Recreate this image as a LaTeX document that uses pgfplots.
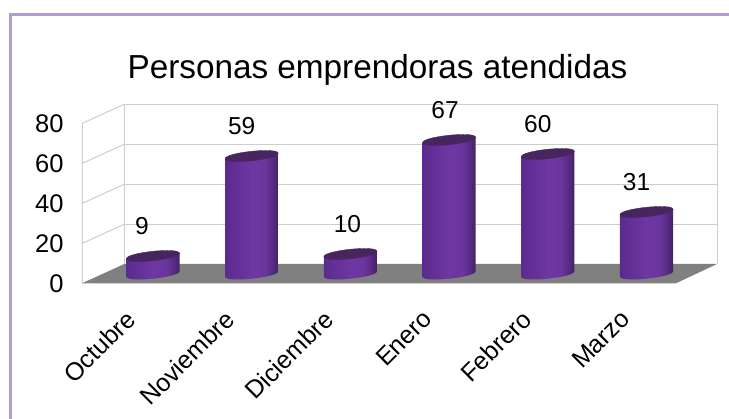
\documentclass[border=0pt]{standalone}
\usepackage{pgfplots}
\pgfplotsset{compat=1.18}
\usepackage{pgfplotstable}
\usepackage{fontspec}
\setmainfont{Liberation Sans}
\definecolor{framec}{HTML}{B09CCE}
\definecolor{gridc}{HTML}{CDCDCD}
\definecolor{floorc}{HTML}{808080}
\definecolor{captop}{HTML}{47255F}
\definecolor{cyla}{HTML}{5A2B8E}
\definecolor{cylb}{HTML}{6E37A2}
\definecolor{cylc}{HTML}{6B359E}
\definecolor{cyld}{HTML}{54297F}
\definecolor{cyle}{HTML}{3E2160}
\pgfdeclarehorizontalshading{cyl}{100bp}{
 color(0bp)=(cyla);
 color(25bp)=(cyla);
 color(50bp)=(cylb);
 color(62bp)=(cylc);
 color(70bp)=(cyld);
 color(75bp)=(cyle);
 color(100bp)=(cyle)}
\pgfdeclareplotmark{cyl}{%
 \pgfmathsetlengthmacro{\h}{2*\v pt}%
 \path[shading=cyl,draw=none] (-26.55pt,-2.79pt) -- (-26.55pt,-2.79pt-\h)
   .. controls (-25.9pt,-9.02pt-\h) and (27.21pt,-3.44pt-\h) .. (26.55pt,2.79pt-\h)
   -- (26.55pt,2.79pt) -- cycle;
 \fill[captop] (-26.55pt,-2.79pt)
   .. controls (-27.2pt,3.44pt) and (25.9pt,9.02pt) .. (26.55pt,2.79pt)
   .. controls (27.21pt,-3.44pt) and (-25.9pt,-9.02pt) .. (-26.55pt,-2.79pt) -- cycle;
}
\pgfplotstableread{
x y dx
0 9 -11
1 59 -10
2 10 -3
3 67 -4
4 60 -10
5 31 -10
}\datatable
\begin{document}
\begin{tikzpicture}
\path[use as bounding box] (0,0) rectangle (729pt,419pt);
% background, in picture pixels
\begin{axis}[at={(0,0)},anchor=south west,scale only axis,width=729pt,height=419pt,
  xmin=0,xmax=729,ymin=0,ymax=419,y dir=reverse,hide axis]
\addplot[draw=none,fill=floorc] coordinates {(82,283.3)(124.3,264)(717,264)(676,283.3)} -- cycle;
\addplot[gridc,line width=1pt] coordinates {(124.3,264)(124.3,104.3)(717,104.3)(717,264)};
\addplot[gridc,line width=1pt] coordinates {(124.3,224.3)(717,224.3)};
\addplot[gridc,line width=1pt] coordinates {(124.3,184.3)(717,184.3)};
\addplot[gridc,line width=1pt] coordinates {(124.3,144.3)(717,144.3)};
\addplot[gridc,line width=1pt] coordinates {(82.3,283.3)(82.3,123.3)(124.3,104.3)};
\addplot[gridc,line width=1pt] coordinates {(82.3,163.3)(124.3,144.3)};
\addplot[gridc,line width=1pt] coordinates {(82.3,203.3)(124.3,184.3)};
\addplot[gridc,line width=1pt] coordinates {(82.3,243.3)(124.3,224.3)};
\addplot[framec,line width=3pt] coordinates {(10.5,419)(10.5,14.2)(729,14.2)};
\node[font=\fontsize{33.3}{33.3}\selectfont,anchor=center] at (axis cs:377.5,69.5) {Personas emprendoras atendidas};
\end{axis}
% axis with ticks
\begin{axis}[at={(82pt,135.7pt)},anchor=south west,scale only axis,width=594pt,height=160pt,
  xmin=-0.5,xmax=5.5,ymin=0,ymax=80,
  axis line style={draw=none},major tick length=0pt,
  ytick={0,20,40,60,80},xtick={0,1,2,3,4,5},
  xticklabels={Octubre,Noviembre,Diciembre,Enero,Febrero,Marzo},
  /pgf/number format/assume math mode=true,
  yticklabel style={font=\fontsize{25.5}{25.5}\selectfont,anchor=east,xshift=-15pt},
  xticklabel style={font=\fontsize{25}{25}\selectfont,rotate=45,anchor=north east,yshift=-9.2pt,xshift=-19.5pt}]
\end{axis}
% cylinders
\begin{axis}[at={(103.65pt,145pt)},anchor=south west,scale only axis,width=592.2pt,height=160pt,
  xmin=-0.5,xmax=5.5,ymin=0,ymax=80,hide axis,clip=false]
\addplot[scatter,only marks,mark=cyl,
  scatter/@pre marker code/.code={\scope},
  scatter/@post marker code/.code={\endscope},
  visualization depends on={rawy\as\v},
  visualization depends on={\thisrow{dx}\as\dx},
  nodes near coords,
  nodes near coords style={font=\fontsize{24.5}{24.5}\selectfont,anchor=center,yshift=30pt,xshift=\dx pt,black,/pgf/number format/assume math mode=true}]
  table[x=x,y=y] {\datatable};
\end{axis}
\end{tikzpicture}
\end{document}
